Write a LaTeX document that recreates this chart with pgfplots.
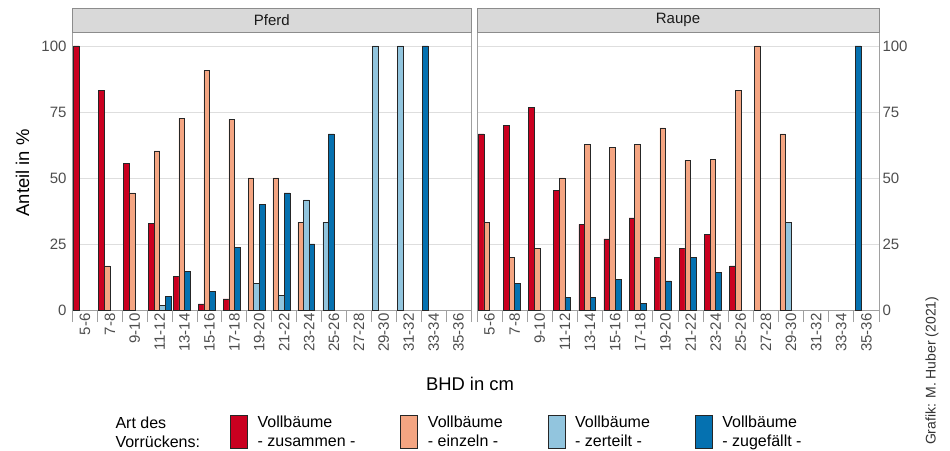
\documentclass[border=0pt]{standalone}
\usepackage{fontspec}
\setmainfont{Liberation Sans}
\usepackage{pgfplots}
\pgfplotsset{compat=1.18}
\definecolor{czus}{HTML}{CA0020}
\definecolor{cein}{HTML}{F4A582}
\definecolor{czert}{HTML}{92C5DE}
\definecolor{czug}{HTML}{0571B0}
\definecolor{gridc}{HTML}{DEDEDE}
\definecolor{borderc}{HTML}{A0A0A0}
\definecolor{stripc}{HTML}{D9D9D9}
\definecolor{stripb}{HTML}{8C8C8C}
\definecolor{tickc}{HTML}{4D4D4D}
\definecolor{barline}{HTML}{262626}
\pgfplotsset{
  mybar/.style={ybar, bar width=0.225, bar shift=0pt, fill=#1, draw=barline, line width=0.5pt,
    legend image code/.code={\draw[fill=#1, draw=barline, line width=0.5pt] (0pt,-16.5pt) rectangle (17pt,16.5pt);}},
  panel/.style={anchor=south west, height=278pt, scale only axis,
    xmin=0.5, xmax=16.5, ymin=0, ymax=105.3,
    xtick={1,...,16},
    xticklabels={5-6,7-8,9-10,11-12,13-14,15-16,17-18,19-20,21-22,23-24,25-26,27-28,29-30,31-32,33-34,35-36},
    minor xtick={0.5,1.5,2.5,3.5,4.5,5.5,6.5,7.5,8.5,9.5,10.5,11.5,12.5,13.5,14.5,15.5,16.5},
    ytick={0,25,50,75,100},
    major tick length=0pt, minor tick length=12pt, tick align=outside,
    xtick pos=bottom,
    ymajorgrids, grid style={draw=gridc, line width=0.9pt},
    axis line style={draw=borderc, line width=0.9pt},
    minor tick style={draw=borderc, line width=0.9pt},
    major tick style={draw=none},
    xticklabel style={rotate=90, anchor=east, font=\fontsize{15}{18}\selectfont, text=tickc},
    yticklabel style={font=\fontsize{15}{18}\selectfont, text=tickc},
    /pgf/number format/assume math mode=true,
  }
}
\begin{document}
\begin{tikzpicture}
% ---------------- Pferd ----------------
\begin{axis}[panel, at={(72.5pt,140pt)}, width=398.5pt,
  ytick pos=left, yticklabel style={xshift=-2.5pt},
  legend style={at={(axis description cs:0.3952,-0.4388)}, anchor=west,
    legend columns=4, draw=none, fill=none, inner sep=0pt,
    font=\fontsize{16}{19}\selectfont,
    cells={anchor=west}, nodes={inner sep=0pt, align=left},
    /tikz/every odd column/.append style={column sep=10pt},
    /tikz/every even column/.append style={column sep=45pt}}]
\addplot[mybar=czus] coordinates {(0.6625,100) (1.6625,83.3) (2.6625,55.6) (3.6625,32.8) (4.6625,12.7) (5.6625,2.3) (6.6625,4.2)};
\addlegendentry{Vollbäume\\- zusammen -}
\addplot[mybar=cein] coordinates {(1.8875,16.7) (2.8875,44.4) (3.8875,60.3) (4.8875,72.7) (5.8875,90.7) (6.8875,72.2) (7.6625,50) (8.6625,50) (9.6625,33.3)};
\addlegendentry{Vollbäume\\- einzeln -}
\addplot[mybar=czert] coordinates {(4.1125,1.7) (7.8875,10) (8.8875,5.6) (9.8875,41.7) (10.6625,33.3) (12.6625,100) (13.6625,100)};
\addlegendentry{Vollbäume\\- zerteilt -}
\addplot[mybar=czug] coordinates {(4.3375,5.2) (5.1125,14.5) (6.1125,7) (7.1125,23.6) (8.1125,40) (9.1125,44.4) (10.1125,25) (10.8875,66.7) (14.6625,100)};
\addlegendentry{Vollbäume\\- zugefällt -}
\end{axis}
% ---------------- Raupe ----------------
\begin{axis}[panel, at={(477pt,140pt)}, width=402pt,
  ytick pos=right, yticklabel pos=right]
\addplot[mybar=czus] coordinates {(0.6625,66.7) (1.6625,70) (2.6625,76.7) (3.6625,45.2) (4.6625,32.4) (5.6625,26.9) (6.6625,34.9) (7.6625,20) (8.6625,23.3) (9.6625,28.6) (10.6625,16.7)};
\addplot[mybar=cein] coordinates {(0.8875,33.3) (1.8875,20) (2.8875,23.3) (3.8875,50) (4.8875,62.7) (5.8875,61.5) (6.8875,62.7) (7.8875,69) (8.8875,56.7) (9.8875,57.1) (10.8875,83.3) (11.6625,100) (12.6625,66.7)};
\addplot[mybar=czert] coordinates {(12.8875,33.3)};
\addplot[mybar=czug] coordinates {(2.1125,10) (4.1125,4.8) (5.1125,4.9) (6.1125,11.5) (7.1125,2.4) (8.1125,11) (9.1125,20) (10.1125,14.3) (15.6625,100)};
\end{axis}
% ---------------- strips ----------------
\draw[fill=stripc, draw=stripb, line width=0.9pt] (72.5pt,418pt) rectangle (471pt,442pt);
\node[font=\fontsize{15}{18}\selectfont, text=black!90] at (271.75pt,430pt) {Pferd};
\draw[fill=stripc, draw=stripb, line width=0.9pt] (477pt,418pt) rectangle (879pt,442pt);
\node[font=\fontsize{15}{18}\selectfont, text=black!90] at (678pt,430pt) {Raupe};
% ---------------- labels ----------------
\node[rotate=90, font=\fontsize{18.4}{22}\selectfont] at (22.5pt,277pt) {Anteil in \%};
\node[font=\fontsize{18.4}{22}\selectfont] at (470pt,66pt) {BHD in cm};
\node[anchor=west, align=left, font=\fontsize{16}{19}\selectfont] at (112pt,18pt) {Art des\\Vorrückens:};
\node[rotate=90, anchor=west, font=\fontsize{14}{16}\selectfont, text=black!80] at (932pt,1.5pt) {Grafik: M. Huber (2021)};
\pgfresetboundingbox
\useasboundingbox (0,0) rectangle (950pt,450pt);
\end{tikzpicture}
\end{document}
